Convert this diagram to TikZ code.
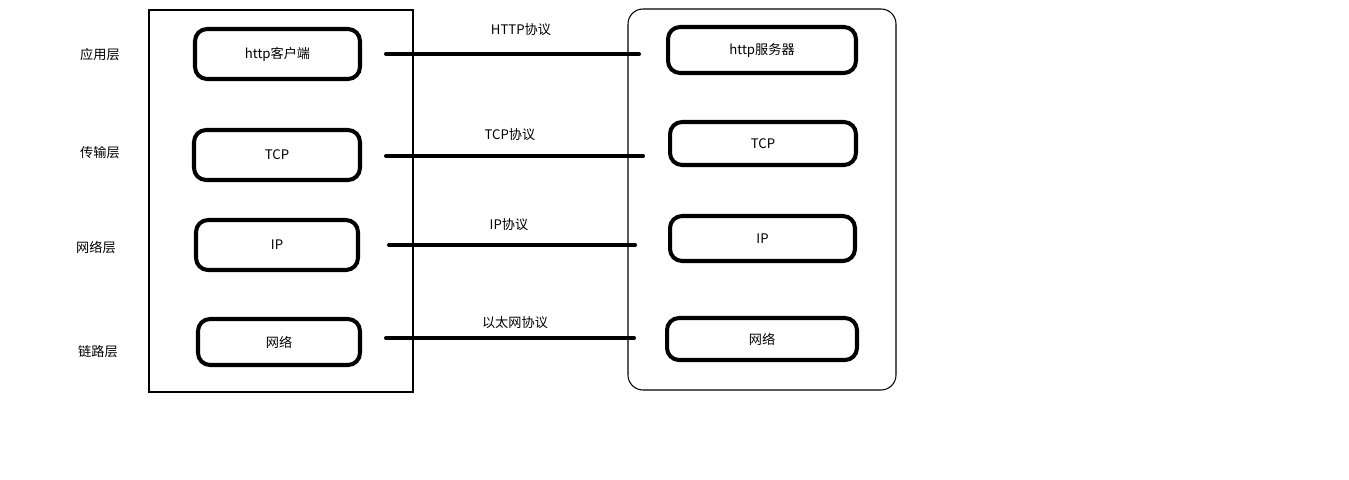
\documentclass[tikz,border=0pt]{standalone}
\usepackage{fontspec}
\setmainfont{Noto Sans CJK SC}
\begin{document}
\begin{tikzpicture}[x=0.02cm, y=-0.02cm, font=\fontsize{7.5}{9}\selectfont,
  blk/.style={draw, line width=2.3pt, rounded corners=0.24cm, inner sep=0pt},
  link/.style={line width=2.3pt, line cap=round}]
\useasboundingbox (0,0) rectangle (1349,480);
% frames
\draw[line width=0.6pt] (149,10) rectangle (413,392);
\draw[line width=0.6pt, rounded corners=0.3cm] (628,9) rectangle (896,390);
% layer names
\node (lay0) at (100,54) {应用层};
\node (lay1) at (100,153) {传输层};
\node (lay2) at (96,247) {网络层};
\node (lay3) at (98,352) {链路层};
% client side
\node[blk, minimum width=3.30cm, minimum height=1.00cm] (cli0) at (277.5,54) {http客户端};
\node[blk, minimum width=3.32cm, minimum height=1.00cm] (cli1) at (277,155) {TCP};
\node[blk, minimum width=3.24cm, minimum height=1.00cm] (cli2) at (277,245) {IP};
\node[blk, minimum width=3.24cm, minimum height=0.92cm] (cli3) at (279,342) {网络};
% server side
\node[blk, minimum width=3.76cm, minimum height=0.92cm] (srv0) at (762,50) {http服务器};
\node[blk, minimum width=3.72cm, minimum height=0.86cm] (srv1) at (763,143.5) {TCP};
\node[blk, minimum width=3.70cm, minimum height=0.90cm] (srv2) at (762.5,238.5) {IP};
\node[blk, minimum width=3.80cm, minimum height=0.84cm] (srv3) at (762,339) {网络};
% protocol lines
\coordinate (pa0) at (386,54);  \coordinate (pb0) at (639,54);
\coordinate (pa1) at (386,156); \coordinate (pb1) at (643,156);
\coordinate (pa2) at (389,245); \coordinate (pb2) at (635,245);
\coordinate (pa3) at (386,338); \coordinate (pb3) at (634,338);
\draw[link] (pa0) -- (pb0);
\draw[link] (pa1) -- (pb1);
\draw[link] (pa2) -- (pb2);
\draw[link] (pa3) -- (pb3);
\node (pro0) at (521,30) {HTTP协议};
\node (pro1) at (510,135) {TCP协议};
\node (pro2) at (509,225) {IP协议};
\node (pro3) at (515,323) {以太网协议};
\end{tikzpicture}
\end{document}
